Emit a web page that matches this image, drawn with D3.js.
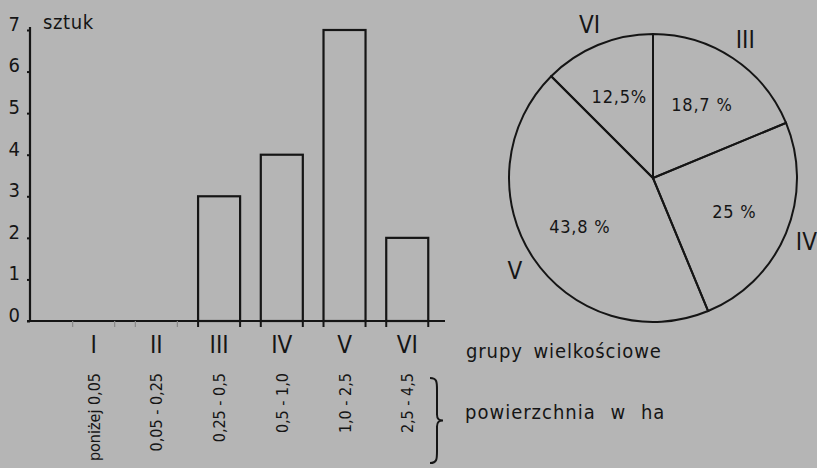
<!DOCTYPE html>
<html><head><meta charset="utf-8">
<script src="https://cdn.jsdelivr.net/npm/d3@7/dist/d3.min.js"></script>
<style>
html,body{margin:0;padding:0;background:#b5b5b5;}
svg{display:block;}
text{fill:#151515;font-family:"DejaVu Sans Condensed","DejaVu Sans",sans-serif;}
</style></head>
<body>
<svg id="c" width="817" height="468"></svg>
<script>
const groups = ["I","II","III","IV","V","VI"];
const counts = [0,0,3,4,7,2];
const ranges = ["poniżej 0,05","0,05 - 0,25","0,25 - 0,5","0,5 - 1,0","1,0 - 2,5","2,5 - 4,5"];
const yTicks = [0,1,2,3,4,5,6,7];
const pieGroups = ["III","IV","V","VI"];
const pieValues = [3,4,7,2];
const pieLabels = ["18,7 %","25 %","43,8 %","12,5%"];

const ink = "#151515";
const svg = d3.select("#c");
svg.append("rect").attr("width",817).attr("height",468).attr("fill","#b5b5b5");

// ---- bar chart ----
const x = d3.scaleBand().domain(groups).range([62.3,438.6]).paddingInner(0.33).paddingOuter(0.165);
const y = d3.scaleLinear().domain([0,7]).range([321,30]);

const yAxis = svg.append("g").attr("transform","translate(30,0)")
  .call(d3.axisLeft(y).tickValues(yTicks).tickSize(3).tickPadding(7).tickFormat(d3.format("d")));
yAxis.select(".domain").remove();
yAxis.selectAll(".tick line").attr("stroke",ink).attr("stroke-width",2);
yAxis.selectAll(".tick text").attr("dy","0.02em").attr("font-size",20)
  .attr("fill",ink).style("font-family","'Liberation Sans Narrow','DejaVu Sans Condensed',sans-serif");
svg.append("line").attr("x1",30).attr("x2",30).attr("y1",y(0)+1).attr("y2",y(7)-3)
  .attr("stroke",ink).attr("stroke-width",2.2);

svg.append("text").attr("x",43).attr("y",29).attr("font-size",20).attr("letter-spacing",0.6).text("sztuk");

// bars
svg.append("g").selectAll("rect").data(groups.map((g,i)=>({g,v:counts[i]})).filter(d=>d.v>0))
  .join("rect")
  .attr("x",d=>x(d.g)).attr("width",x.bandwidth())
  .attr("y",d=>y(d.v)).attr("height",d=>y(0)-y(d.v))
  .attr("fill","none").attr("stroke",ink).attr("stroke-width",2.2);

// baseline
svg.append("line").attr("x1",27).attr("x2",445).attr("y1",y(0)).attr("y2",y(0))
  .attr("stroke",ink).attr("stroke-width",2.2);

// x ticks at bar edges
const edges = [];
groups.forEach((g,i)=>{ edges.push({g,pos:x(g),v:counts[i]}); edges.push({g,pos:x(g)+x.bandwidth(),v:counts[i]}); });
svg.append("g").selectAll("line").data(edges).join("line")
  .attr("x1",d=>d.pos).attr("x2",d=>d.pos).attr("y1",y(0)).attr("y2",y(0)+6)
  .attr("stroke",d=>d.v>0?ink:"#8a8a8a").attr("stroke-width",d=>d.v>0?2:1.2);

// roman labels
svg.append("g").selectAll("text").data(groups).join("text")
  .attr("x",d=>x(d)+x.bandwidth()/2).attr("y",353)
  .attr("text-anchor","middle").attr("font-size",24)
  .style("font-family","'Liberation Sans Narrow','DejaVu Sans Condensed',sans-serif")
  .text(d=>d);

// rotated range labels
svg.append("g").selectAll("text").data(ranges).join("text")
  .attr("transform",(d,i)=>`translate(${x(groups[i])+x.bandwidth()/2+6},373) rotate(-90)`)
  .attr("text-anchor","end").attr("font-size",16)
  .text(d=>d);

// brace
const bx = 430, by0 = 378, by1 = 463, bm = (by0+by1)/2;
svg.append("path")
  .attr("d",`M${bx},${by0} C${bx+7},${by0} ${bx+7},${by0+4} ${bx+7},${by0+12} L${bx+7},${bm-6} C${bx+7},${bm-1} ${bx+9},${bm} ${bx+13},${bm} C${bx+9},${bm} ${bx+7},${bm+1} ${bx+7},${bm+6} L${bx+7},${by1-12} C${bx+7},${by1-4} ${bx+7},${by1} ${bx},${by1}`)
  .attr("fill","none").attr("stroke",ink).attr("stroke-width",2);

svg.append("text").attr("x",466).attr("y",358).attr("font-size",20).attr("letter-spacing",0.9).attr("word-spacing",4).text("grupy wielkościowe");
svg.append("text").attr("x",465).attr("y",419).attr("font-size",20).attr("letter-spacing",1).attr("word-spacing",8).text("powierzchnia w ha");

// ---- pie ----
const cx = 653, cy = 178, r = 144;
const pie = d3.pie().sort(null).value(d=>d.v);
const arcs = pie(pieGroups.map((g,i)=>({g,v:pieValues[i],lab:pieLabels[i]})));
const arc = d3.arc().innerRadius(0).outerRadius(r);
const pg = svg.append("g").attr("transform",`translate(${cx},${cy})`);
pg.selectAll("path").data(arcs).join("path")
  .attr("d",arc).attr("fill","none").attr("stroke",ink).attr("stroke-width",2);

const inArc = d3.arc().innerRadius(88).outerRadius(88);
pg.selectAll("text.p").data(arcs).join("text").attr("class","p")
  .attr("transform",d=>`translate(${inArc.centroid(d)})`)
  .attr("text-anchor","middle").attr("dy","0.35em").attr("font-size",18).attr("letter-spacing",0.8)
  .text(d=>d.data.lab);

const outArc = d3.arc().innerRadius(166).outerRadius(166);
pg.selectAll("text.o").data(arcs).join("text").attr("class","o")
  .attr("transform",d=>`translate(${outArc.centroid(d)})`)
  .attr("text-anchor","middle").attr("dy","0.35em").attr("font-size",24)
  .style("font-family","'Liberation Sans Narrow','DejaVu Sans Condensed',sans-serif")
  .text(d=>d.data.g);
</script>
</body></html>
